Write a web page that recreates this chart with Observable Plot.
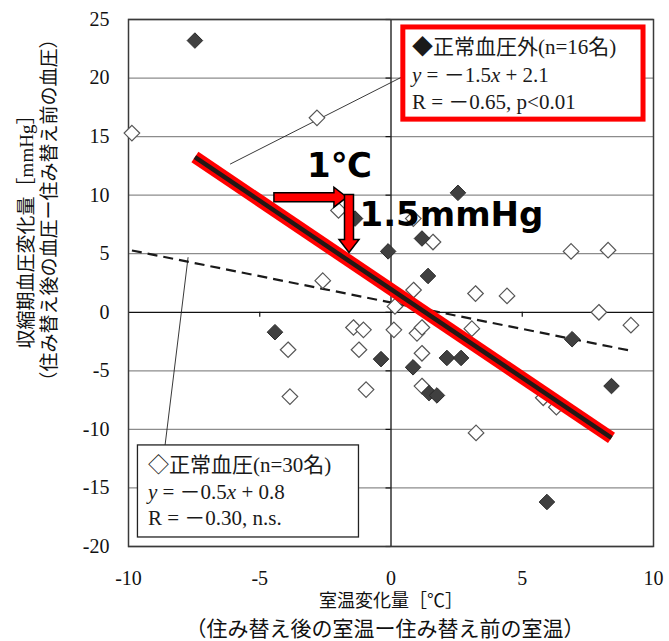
<!DOCTYPE html>
<html>
<head>
<meta charset="utf-8">
<script src="https://cdn.jsdelivr.net/npm/d3@7"></script>
<script src="https://cdn.jsdelivr.net/npm/@observablehq/plot@0.6"></script>
<style>
  html, body { margin: 0; padding: 0; background: #fff; }
  #chart { width: 669px; height: 641px; }
</style>
</head>
<body>
<div id="chart"></div>
<script>
// ---------- DATA ----------
// 正常血圧外 (filled diamonds, n=16)
const highX = [-7.47, -1.37, -0.11, 2.55, 1.18, 1.41, -4.42, -0.38, 0.84, 2.13, 2.67, 1.45, 1.75, 6.9, 8.4, 5.94];
const highY = [23.2, 8.0, 5.2, 10.2, 6.3, 3.1, -1.7, -4.0, -4.7, -3.9, -3.9, -6.9, -7.1, -2.3, -6.3, -16.2];
// 正常血圧 (open diamonds)
const normalX = [-9.87, -2.82, -2.0, -2.6, 0.85, 1.6, 6.86, 8.27, 0.86, 3.22, 4.42, 7.92, 9.14, 0.11, 0.99, 1.18, 3.08, 1.18, 1.18, 3.24, 5.8, 6.3, 0.15, -1.43, -1.05, -1.22, -0.95, -3.92, -3.85];
const normalY = [15.3, 16.6, 8.7, 2.7, 8.0, 6.0, 5.2, 5.3, 1.9, 1.6, 1.4, 0.0, -1.1, -1.5, -1.8, -1.3, -1.4, -3.5, -6.3, -10.3, -7.3, -8.1, 0.5, -1.3, -1.5, -3.2, -6.6, -3.2, -7.2];

const xTicks = [-10, -5, 0, 5, 10];
const yTicks = [-20, -15, -10, -5, 0, 5, 10, 15, 20, 25];

const legendHigh = ["◆正常血圧外(n=16名)", "y = －1.5x + 2.1", "R = －0.65, p<0.01"];
const legendNormal = ["◇正常血圧(n=30名)", "y = －0.5x + 0.8", "R = －0.30, n.s."];
const xLabel = ["室温変化量［℃］", "（住み替え後の室温ー住み替え前の室温）"];
const yLabel = ["収縮期血圧変化量［mmHg］", "（住み替え後の血圧ー住み替え前の血圧）"];
const stepLabels = ["1℃", "1.5mmHg"];

// ---------- ANNOTATION PLACEMENT (data units) ----------
const boxHigh = {x1: 0.47, x2: 9.62, y1: 16.45, y2: 24.32};
const boxNormal = {x1: -9.64, x2: -1.22, y1: -19.23, y2: -11.37};
const leaders = [
  {x1: -6.13, y1: 12.65, x2: 0.6, y2: 20.3},
  {x1: -8.61, y1: -11.4, x2: -7.73, y2: 4.7}
];
const highTextX = 0.8, highTextY = [22.6, 20.25, 17.95];
const normalTextX = -9.26, normalTextY = [-13.08, -15.38, -17.61];
const arrowH = {x: -4.46, y: 9.83};
const arrowV = {x: -1.6, y: 10.05};
const stepPos = [{x: -3.2, y: 12.5}, {x: -1.2, y: 8.3}];

// ---------- BUILD ----------
const high = highX.map((x, i) => ({x, y: highY[i]}));
const normal = normalX.map((x, i) => ({x, y: normalY[i]}));
const gridY = yTicks.filter(d => d !== 0);

const blockArrow = {
  draw(context, l) {
    const w = 4.5, h = 10, hl = 13;
    context.moveTo(-w, 0);
    context.lineTo(-w, -(l - hl));
    context.lineTo(-h, -(l - hl));
    context.lineTo(0, -l);
    context.lineTo(h, -(l - hl));
    context.lineTo(w, -(l - hl));
    context.lineTo(w, 0);
    context.closePath();
  }
};

const SERIF = '"Liberation Serif", "Noto Sans CJK JP", serif';
const JP = '"Noto Sans CJK JP", sans-serif';
const MIX = '"Liberation Serif", "Noto Sans CJK JP", serif';

const plot = Plot.plot({
  width: 669,
  height: 641,
  marginLeft: 128,
  marginRight: 16,
  marginTop: 19,
  marginBottom: 95,
  style: {fontFamily: SERIF, fontSize: "20px", background: "#fff", color: "#111", overflow: "visible"},
  x: {domain: [-10, 10], ticks: xTicks, tickSize: 0, tickPadding: 24, tickFormat: d => String(d), label: null},
  y: {domain: [-20, 25], ticks: yTicks, tickSize: 0, tickPadding: 19, tickFormat: d => String(d), label: null},
  marks: [
    Plot.ruleY(gridY, {stroke: "#8c8c8c", strokeWidth: 1.3}),
    Plot.ruleY([0], {stroke: "#111", strokeWidth: 1.3}),
    Plot.ruleX([0], {stroke: "#111", strokeWidth: 1.3}),
    Plot.ruleY(yTicks, {y: d => d, x1: 0, x2: 0, insetLeft: -5, stroke: "#111", strokeWidth: 1.2}),
    Plot.ruleX(xTicks.filter(d => d !== 0 && Math.abs(d) < 10), {x: d => d, y1: 0, y2: 0, insetBottom: -5, stroke: "#111", strokeWidth: 1.2}),
    Plot.frame({stroke: "#3a3a3a", strokeWidth: 1.5}),
    Plot.link(leaders, {x1: "x1", y1: "y1", x2: "x2", y2: "y2", stroke: "#222", strokeWidth: 0.9}),
    Plot.linearRegressionY(normal, {x: "x", y: "y", ci: 0, stroke: "#1a1a1a", strokeWidth: 2.2, strokeDasharray: "10,6", strokeLinecap: "butt"}),
    Plot.dot(normal, {x: "x", y: "y", symbol: "diamond2", r: 7, fill: "#fff", stroke: "#555", strokeWidth: 1.2}),
    Plot.dot(high, {x: "x", y: "y", symbol: "diamond2", r: 7, fill: "#404040", stroke: "#2a2a2a", strokeWidth: 1}),
    Plot.linearRegressionY(high, {x: "x", y: "y", ci: 0, stroke: "#ff0000", strokeWidth: 12.5, strokeLinecap: "butt"}),
    Plot.linearRegressionY(high, {x: "x", y: "y", ci: 0, stroke: "#231815", strokeWidth: 4.5, strokeLinecap: "butt"}),
    Plot.vector([arrowH], {x: "x", y: "y", length: 73, rotate: 90, anchor: "start", shape: blockArrow, fill: "#ff0000", stroke: "#000", strokeWidth: 1.5, strokeLinejoin: "miter"}),
    Plot.vector([arrowV], {x: "x", y: "y", length: 58, rotate: 180, anchor: "start", shape: blockArrow, fill: "#ff0000", stroke: "#000", strokeWidth: 1.5, strokeLinejoin: "miter"}),
    Plot.text(stepLabels, {x: (d, i) => stepPos[i].x, y: (d, i) => stepPos[i].y, text: d => d, textAnchor: "start", fontSize: 34, fontWeight: "bold", fontFamily: '"DejaVu Sans", sans-serif', fill: "#000"}),
    Plot.rect([boxHigh], {x1: "x1", x2: "x2", y1: "y1", y2: "y2", fill: "#fff", stroke: "#ff0000", strokeWidth: 5}),
    Plot.rect([boxNormal], {x1: "x1", x2: "x2", y1: "y1", y2: "y2", fill: "#fff", stroke: "#222", strokeWidth: 1.3}),
    Plot.text(legendHigh, {x: highTextX, y: (d, i) => highTextY[i], text: d => d, textAnchor: "start", lineAnchor: "middle", fontSize: 21, fontFamily: MIX, fill: "#1a1a1a"}),
    Plot.text(legendNormal, {x: normalTextX, y: (d, i) => normalTextY[i], text: d => d, textAnchor: "start", lineAnchor: "middle", fontSize: 21, fontFamily: MIX, fill: "#1a1a1a"}),
    Plot.text([xLabel[0]], {frameAnchor: "bottom", dy: 55, text: d => d, textAnchor: "middle", lineAnchor: "middle", fontSize: 18, fontFamily: MIX, fill: "#111"}),
    Plot.text([xLabel[1]], {frameAnchor: "bottom", dx: -6, dy: 83, text: d => d, textAnchor: "middle", lineAnchor: "middle", fontSize: 21, fontFamily: JP, fill: "#111"}),
    Plot.text([yLabel[0]], {frameAnchor: "left", dx: -102, dy: -56, rotate: -90, text: d => d, textAnchor: "middle", lineAnchor: "middle", fontSize: 19, fontFamily: MIX, fill: "#111"}),
    Plot.text([yLabel[1]], {frameAnchor: "left", dx: -79, dy: -73, rotate: -90, text: d => d, textAnchor: "middle", lineAnchor: "middle", fontSize: 19, fontFamily: JP, fill: "#111"})
  ]
});

// italic variables in the regression equations
d3.select(plot).selectAll("text").each(function () {
  const t = this.textContent;
  if (/^y = /.test(t)) {
    this.textContent = "";
    for (const p of t.split(/([xy])/)) {
      if (!p) continue;
      const ts = d3.select(this).append("tspan").text(p);
      if (p === "x" || p === "y") ts.attr("font-style", "italic");
    }
  }
});

document.getElementById("chart").appendChild(plot);
</script>
</body>
</html>
